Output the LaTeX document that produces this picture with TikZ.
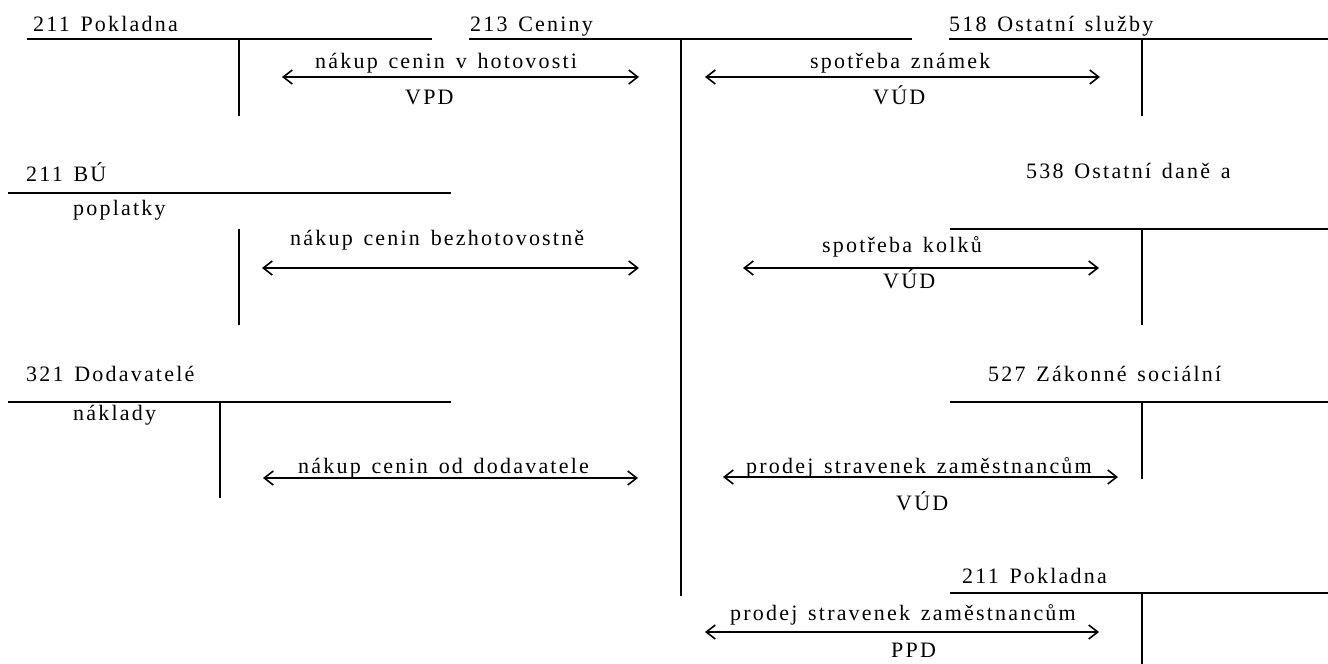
\documentclass[tikz,border=0pt]{standalone}
\usepackage{fontspec}
\setmainfont[LetterSpace=10,WordSpace=1.4]{Liberation Serif}
\usetikzlibrary{arrows.meta}
\begin{document}
\begin{tikzpicture}[x=1pt,y=-1pt,
  acc/.style={line width=1.8pt},
  lbl/.style={anchor=base west,inner sep=0pt,font=\fontsize{22}{26}\selectfont},
  flow/.style={line width=1.6pt,{Straight Barb[length=9pt,width=14pt]}-{Straight Barb[length=9pt,width=14pt]}}]
\useasboundingbox (0,0) rectangle (1328,664);
% ---------- T-accounts ----------
% 211 Pokladna (top left)
\node[lbl] (t211a) at (33,31.5) {211 Pokladna};
\coordinate (a1l) at (27,39.3); \coordinate (a1r) at (432,39.3);
\coordinate (a1t) at (239,39.3); \coordinate (a1b) at (239,116);
\draw[acc] (a1l) -- (a1r); \draw[acc] (a1t) -- (a1b);
% 213 Ceniny
\node[lbl] (t213) at (470,31.5) {213 Ceniny};
\coordinate (a2l) at (469,39.3); \coordinate (a2r) at (912,39.3);
\coordinate (a2t) at (681,39.3); \coordinate (a2b) at (681,596);
\draw[acc] (a2l) -- (a2r); \draw[acc] (a2t) -- (a2b);
% 518 Ostatni sluzby
\node[lbl] (t518) at (949,31.5) {518 Ostatní služby};
\coordinate (a3l) at (949,39.3); \coordinate (a3r) at (1328,39.3);
\coordinate (a3t) at (1142,39.3); \coordinate (a3b) at (1142,116);
\draw[acc] (a3l) -- (a3r); \draw[acc] (a3t) -- (a3b);
% 211 BU
\node[lbl] (t211b) at (26,181) {211 BÚ};
\node[lbl] (tpopl) at (73,215) {poplatky};
\coordinate (a4l) at (8,192.7); \coordinate (a4r) at (451,192.7);
\coordinate (a4t) at (239,229); \coordinate (a4b) at (239,325);
\draw[acc] (a4l) -- (a4r); \draw[acc] (a4t) -- (a4b);
% 538 Ostatni dane a
\node[lbl] (t538) at (1026,178) {538 Ostatní daně a};
\coordinate (a5l) at (950,229); \coordinate (a5r) at (1328,229);
\coordinate (a5t) at (1142,229); \coordinate (a5b) at (1142,325);
\draw[acc] (a5l) -- (a5r); \draw[acc] (a5t) -- (a5b);
% 321 Dodavatele
\node[lbl] (t321) at (26,381) {321 Dodavatelé};
\node[lbl] (tnakl) at (73,420) {náklady};
\coordinate (a6l) at (8,402); \coordinate (a6r) at (451,402);
\coordinate (a6t) at (220,402); \coordinate (a6b) at (220,498);
\draw[acc] (a6l) -- (a6r); \draw[acc] (a6t) -- (a6b);
% 527 Zakonne socialni
\node[lbl] (t527) at (988,381) {527 Zákonné sociální};
\coordinate (a7l) at (950,402); \coordinate (a7r) at (1328,402);
\coordinate (a7t) at (1142,402); \coordinate (a7b) at (1142,479);
\draw[acc] (a7l) -- (a7r); \draw[acc] (a7t) -- (a7b);
% 211 Pokladna (bottom right)
\node[lbl] (t211c) at (962,583) {211 Pokladna};
\coordinate (a8l) at (950,593); \coordinate (a8r) at (1328,593);
\coordinate (a8t) at (1142,593); \coordinate (a8b) at (1142,664);
\draw[acc] (a8l) -- (a8r); \draw[acc] (a8t) -- (a8b);
% ---------- flows ----------
\coordinate (f1l) at (282,77); \coordinate (f1r) at (639,77);
\draw[flow] (f1l) -- (f1r);
\node[lbl] (l1) at (315,68.3) {nákup cenin v hotovosti};
\node[lbl] (d1) at (405,104) {VPD};
\coordinate (f2l) at (705,77); \coordinate (f2r) at (1100,77);
\draw[flow] (f2l) -- (f2r);
\node[lbl] (l2) at (810,68.3) {spotřeba známek};
\node[lbl] (d2) at (873,104) {VÚD};
\coordinate (f3l) at (262,268); \coordinate (f3r) at (639,268);
\draw[flow] (f3l) -- (f3r);
\node[lbl] (l3) at (290,245) {nákup cenin bezhotovostně};
\coordinate (f4l) at (743,268); \coordinate (f4r) at (1099,268);
\draw[flow] (f4l) -- (f4r);
\node[lbl] (l4) at (822,252) {spotřeba kolků};
\node[lbl] (d4) at (883,288) {VÚD};
\coordinate (f5l) at (263,478); \coordinate (f5r) at (638,478);
\draw[flow] (f5l) -- (f5r);
\node[lbl] (l5) at (298,473) {nákup cenin od dodavatele};
\coordinate (f6l) at (723,477); \coordinate (f6r) at (1118,477);
\draw[flow] (f6l) -- (f6r);
\node[lbl] (l6) at (746,473) {prodej stravenek zaměstnancům};
\node[lbl] (d6) at (896,510) {VÚD};
\coordinate (f7l) at (705,632); \coordinate (f7r) at (1099,632);
\draw[flow] (f7l) -- (f7r);
\node[lbl] (l7) at (730,620) {prodej stravenek zaměstnancům};
\node[lbl] (d7) at (891,657) {PPD};
\end{tikzpicture}
\end{document}
